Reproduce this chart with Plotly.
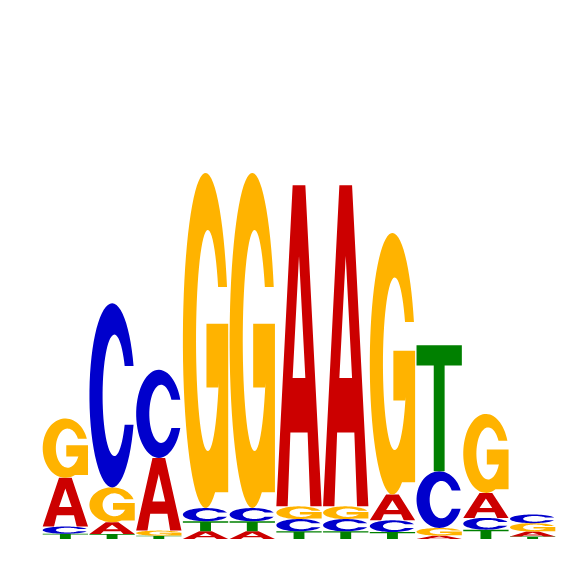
import numpy as np
import plotly.graph_objects as go

# sequence logo, heights in bits
positions = list(range(1, 12))
bases = ["A", "C", "G", "T"]
heights_A = [0.203, 0.049, 0.303, 0.032, 0.032, 1.338, 1.338, 0.107, 0.014, 0.104, 0.021]
heights_C = [0.030, 0.767, 0.367, 0.055, 0.055, 0.051, 0.051, 0.049, 0.236, 0.049, 0.036]
heights_G = [0.247, 0.145, 0.021, 1.396, 1.396, 0.053, 0.053, 1.090, 0.032, 0.329, 0.035]
heights_T = [0.022, 0.021, 0.014, 0.042, 0.042, 0.032, 0.032, 0.029, 0.525, 0.039, 0.010]
base_colors = {"A": "#CC0000", "C": "#0000CC", "G": "#FFB300", "T": "#008000"}


def arc(cx, cy, rx, ry, a0, a1, n=60):
    t = np.radians(np.linspace(a0, a1, n))
    return list(zip(cx + rx * np.cos(t), cy + ry * np.sin(t)))


def glyph(b):
    # outlines in a unit box
    if b == "A":
        outer = [(0, 0), (0.25, 0), (0.31, 0.23), (0.69, 0.23), (0.75, 0),
                 (1, 0), (0.64, 1), (0.36, 1)]
        hole = [(0.36, 0.40), (0.5, 0.78), (0.64, 0.40)]
        return [outer, hole]
    if b == "T":
        return [[(0, 1), (0, 0.84), (0.38, 0.84), (0.38, 0), (0.62, 0),
                 (0.62, 0.84), (1, 0.84), (1, 1)]]
    th = np.degrees(np.arcsin(0.16 / 0.5))
    ph = np.degrees(np.arcsin(0.16 / 0.33))
    if b == "C":
        pts = arc(0.5, 0.5, 0.5, 0.5, th, 360 - th)
        pts += arc(0.55, 0.5, 0.26, 0.33, 360 - ph, ph)
        return [pts]
    # G
    pts = arc(0.5, 0.5, 0.5, 0.5, th, 295)
    yb = 0.5 + 0.5 * np.sin(np.radians(295))
    pts += [(1.0, yb), (1.0, 0.55), (0.52, 0.55), (0.52, 0.36), (0.79, 0.36)]
    ps = np.degrees(np.arccos((0.79 - 0.55) / 0.26))
    pts += arc(0.55, 0.5, 0.26, 0.33, 360 - ps, ph)
    return [pts]


def to_path(subs, x0, w, y0, h):
    out = ""
    for s in subs:
        out += "M" + "L".join(f"{x0 + u * w:.4f},{y0 + v * h:.5f}" for u, v in s) + "Z"
    return out


table = {"A": heights_A, "C": heights_C, "G": heights_G, "T": heights_T}

fig = go.Figure()
fig.add_trace(go.Scatter(x=[0.5, 11.5], y=[0, 2], mode="markers",
                         marker=dict(opacity=0), hoverinfo="skip", showlegend=False))

shapes = []
for i, p in enumerate(positions):
    col = sorted(bases, key=lambda b: table[b][i])
    y = 0.0
    for b in col:
        h = table[b][i]
        shapes.append(dict(type="path", xref="x", yref="y",
                           path=to_path(glyph(b), p - 0.485, 0.97, y, h),
                           fillcolor=base_colors[b], line=dict(width=0)))
        y += h

# page body has an 8px margin, so margins are offset to land the logo in place
fig.update_layout(
    width=566, height=566,
    margin=dict(l=34, r=18, t=51, b=35),
    paper_bgcolor="white", plot_bgcolor="white",
    xaxis=dict(range=[0.5, 11.5], visible=False),
    yaxis=dict(range=[0, 2], visible=False),
    shapes=shapes,
)
fig.write_html("out.html")
